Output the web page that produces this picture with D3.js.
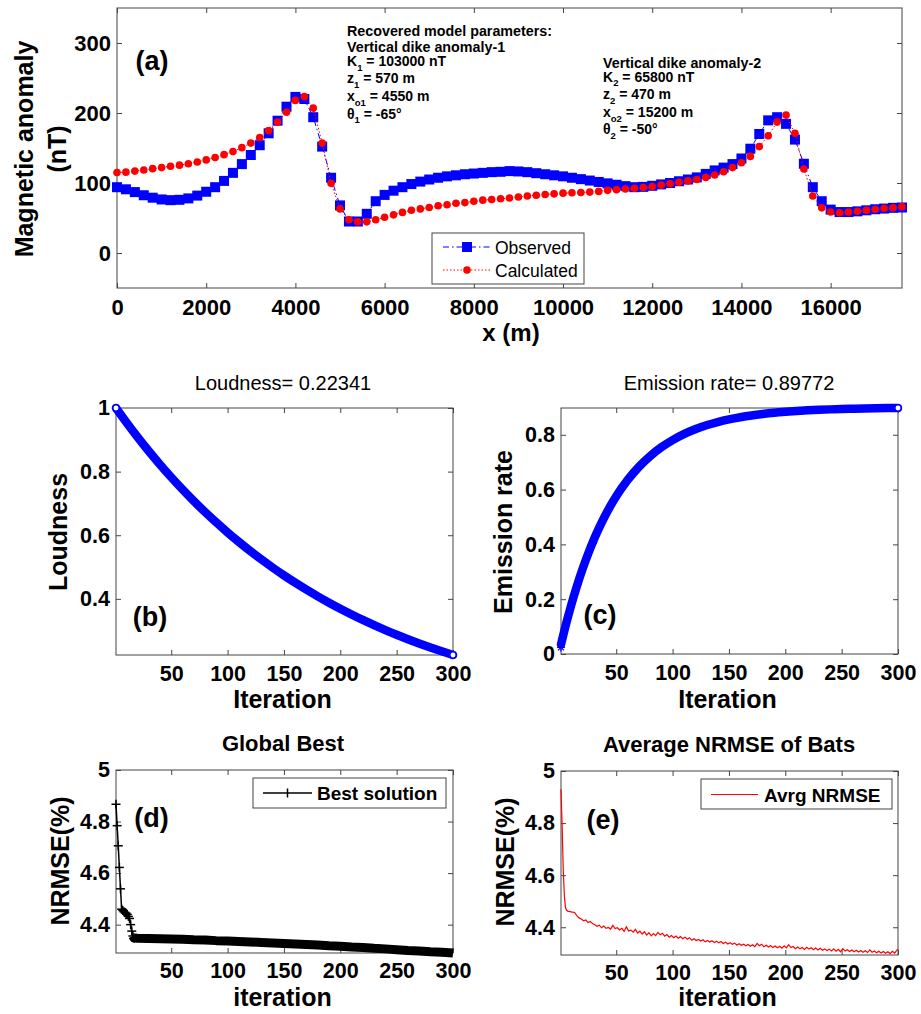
<!DOCTYPE html>
<html>
<head>
<meta charset="utf-8">
<script src="https://cdn.jsdelivr.net/npm/d3@7"></script>
<style>
body { margin: 0; background: #fff; }
text { font-family: "Liberation Sans", Arial, sans-serif; }
</style>
</head>
<body>
<svg width="921" height="1014"></svg>
<script>
var svg = d3.select('svg');

// ---- data ----
var stations = [0,200,400,600,800,1000,1200,1400,1600,1800,
  2000,2200,2400,2600,2800,3000,3200,3400,3600,3800,
  4000,4200,4400,4600,4800,5000,5200,5400,5600,5800,
  6000,6200,6400,6600,6800,7000,7200,7400,7600,7800,
  8000,8200,8400,8600,8800,9000,9200,9400,9600,9800,
  10000,10200,10400,10600,10800,11000,11200,11400,11600,11800,
  12000,12200,12400,12600,12800,13000,13200,13400,13600,13800,
  14000,14200,14400,14600,14800,15000,15200,15400,15600,15800,
  16000,16200,16400,16600,16800,17000,17200,17400,17600];

var observed = [94,91,87,82.5,79,76.5,75.5,76,78,82,
  87.5,94,103,114.5,127,140,154,171,189,209,
  223,220,194,152,107.5,68,45,45,56,74,
  83,89,94,98.5,102,105,107.5,109.5,111,112.5,
  113.5,114.5,115.5,116,117,116.5,115.5,114,112.5,111,
  109.5,107.5,105.5,103.5,101.5,99.5,97.5,95.5,94,94.5,
  96,98,100,102.5,105,108,113,118,122,127,
  135,149,170,189.5,194,184.5,162,127.5,94,74,
  62,58.5,58.5,59.5,61,62.5,63.5,64.5,65];

var calculated = [115,115.5,117,118.5,120.5,122,124,125.5,127.5,130,
  133,136.5,140.5,145,150.5,157,165,175,187,201,
  218,223.5,207,157,99.5,63,47.5,44.5,44.5,47.5,
  51,54.5,58,61,63,65,67.5,69,71,72,
  74,75.5,76.5,77.5,78.5,80,81.5,82.5,83.5,84.5,
  85.5,86,86.5,87,88,89.5,90.5,91.5,92.5,93.5,
  95,97,99,101,103,105,108,111.5,116,122,
  129,138,152,167.5,187,197,171,120,81.5,64.5,
  58.5,57.5,58.5,59.5,61,62.5,64,64.5,66];

var loudIter = [1,10,20,30,40,50,60,70,80,90,100,110,120,130,140,150,160,170,180,190,200,210,220,230,240,250,260,270,280,290,300];
var loudness = [1,0.9559,0.9092,0.8647,0.8224,0.7822,0.7440,0.7076,0.6730,0.6401,0.6088,0.5791,0.5507,0.5238,0.4982,0.4738,0.4507,0.4287,0.4077,0.3878,0.3688,0.3508,0.3336,0.3173,0.3018,0.2870,0.2730,0.2597,0.2470,0.2349,0.22341];

var emisIter = [1,5,10,15,20,25,30,35,40,45,50,60,70,80,90,100,110,120,130,140,150,160,170,180,190,200,210,220,230,240,250,260,270,280,290,300];
var emission = [0.035,0.1018,0.1777,0.2465,0.3087,0.3649,0.4159,0.4619,0.5036,0.5413,0.5755,0.6343,0.6825,0.7219,0.7542,0.7806,0.8023,0.8200,0.8345,0.8464,0.8561,0.8640,0.8706,0.8759,0.8803,0.8838,0.8868,0.8892,0.8911,0.8927,0.8941,0.8951,0.8960,0.8967,0.8973,0.89772];

var bestIter = [1,2,3,4,5,6,7,8,9,10,11,12,13,14,15,16,17,20,30,40,50,60,70,80,90,100,110,120,130,140,150,160,170,180,190,200,210,220,230,240,250,260,270,280,290,300];
var bestNrmse = [4.867,4.784,4.706,4.622,4.539,4.46,4.455,4.45,4.447,4.444,4.44,4.432,4.424,4.40,4.375,4.356,4.348,4.347,4.346,4.345,4.344,4.343,4.341,4.340,4.338,4.337,4.335,4.333,4.331,4.329,4.327,4.325,4.323,4.321,4.318,4.316,4.313,4.311,4.308,4.306,4.303,4.300,4.298,4.295,4.293,4.290];

var avgIter = [1,2,3,4,5,6,7,9,11,13,15,17,19,21,23,25,27,29,31,33,35,37,39,41,43,45,47,49,
  51,53,55,57,59,61,63,65,67,69,71,73,75,77,79,81,83,85,87,89,91,93,95,97,99,
  101,103,105,107,109,111,113,115,117,119,121,123,125,127,129,131,133,135,137,139,141,143,145,147,149,
  151,153,155,157,159,161,163,165,167,169,171,173,175,177,179,181,183,185,187,189,191,193,195,197,199,
  201,203,205,207,209,211,213,215,217,219,221,223,225,227,229,231,233,235,237,239,241,243,245,247,249,
  251,253,255,257,259,261,263,265,267,269,271,273,275,277,279,281,283,285,287,289,291,293,295,297,299,300];
var avgNrmse = [4.93,4.79,4.62,4.52,4.475,4.465,4.462,4.46,4.458,4.457,4.445,4.436,4.432,4.425,4.428,4.418,4.422,4.414,4.41,4.404,4.408,4.398,4.405,4.396,4.399,4.393,4.407,4.395,
  4.398,4.39,4.396,4.384,4.402,4.386,4.389,4.381,4.392,4.378,4.385,4.374,4.383,4.37,4.379,4.367,4.376,4.368,4.38,4.371,4.377,4.366,4.372,4.362,4.368,
  4.36,4.366,4.358,4.364,4.356,4.362,4.354,4.36,4.35,4.356,4.349,4.353,4.347,4.352,4.344,4.349,4.343,4.348,4.341,4.346,4.34,4.345,4.338,4.343,4.336,
  4.341,4.335,4.339,4.332,4.337,4.331,4.335,4.329,4.334,4.327,4.333,4.326,4.338,4.329,4.335,4.325,4.331,4.324,4.33,4.322,4.328,4.321,4.327,4.32,4.329,
  4.321,4.333,4.322,4.326,4.318,4.324,4.317,4.322,4.315,4.323,4.316,4.321,4.314,4.32,4.313,4.319,4.312,4.317,4.311,4.316,4.309,4.317,4.308,4.315,4.306,
  4.318,4.309,4.314,4.307,4.313,4.306,4.312,4.305,4.311,4.304,4.31,4.303,4.313,4.304,4.309,4.302,4.308,4.301,4.307,4.3,4.306,4.299,4.308,4.301,4.312,4.316];

var iterTicks = [50,100,150,200,250,300];

// ---- helpers ----
function frame(x, y, xTicks, yTicks, fs, xPad) {
  var xr = x.range(), yr = y.range();
  var gb = svg.append('g').attr('transform', 'translate(0,' + yr[0] + ')')
    .call(d3.axisBottom(x).tickValues(xTicks).tickSize(-5).tickPadding(xPad).tickFormat(function(d){ return d; }));
  var gt = svg.append('g').attr('transform', 'translate(0,' + yr[1] + ')')
    .call(d3.axisTop(x).tickValues(xTicks).tickSize(-5).tickFormat(''));
  var gl = svg.append('g').attr('transform', 'translate(' + xr[0] + ',0)')
    .call(d3.axisLeft(y).tickValues(yTicks).tickSize(-5).tickPadding(6).tickFormat(function(d){ return d; }));
  var gr = svg.append('g').attr('transform', 'translate(' + xr[1] + ',0)')
    .call(d3.axisRight(y).tickValues(yTicks).tickSize(-5).tickFormat(''));
  [gb, gt, gl, gr].forEach(function(g){
    g.select('.domain').remove();
    g.selectAll('line').attr('stroke', '#444');
    g.selectAll('text').attr('font-size', fs).attr('font-weight', 'bold').attr('fill', '#000');
  });
  svg.append('rect')
    .attr('x', xr[0]).attr('y', yr[1])
    .attr('width', xr[1] - xr[0]).attr('height', yr[0] - yr[1])
    .attr('fill', 'none').attr('stroke', '#444').attr('stroke-width', 1);
}

function label(txt, x, y, size, weight, rot, anchor) {
  var t = svg.append('text').text(txt)
    .attr('font-size', size).attr('font-weight', weight || 'normal')
    .attr('text-anchor', anchor || 'middle').attr('fill', '#000');
  if (rot) {
    t.attr('transform', 'translate(' + x + ',' + y + ') rotate(-90)').attr('dy', '0.35em');
  } else {
    t.attr('x', x).attr('y', y);
  }
  return t;
}

function paramLine(x, y, main, sub, rest) {
  var t = svg.append('text').attr('x', x).attr('y', y)
    .attr('font-size', 14).attr('font-weight', 'bold').attr('fill', '#000');
  t.append('tspan').text(main);
  t.append('tspan').text(sub).attr('font-size', 9.5).attr('dy', 4.5);
  t.append('tspan').text(rest).attr('dy', -4.5);
}

// ================= panel (a) =================
var xa = d3.scaleLinear().domain([0, 17600]).range([117, 902]);
var ya = d3.scaleLinear().domain([-50, 350]).range([288, 8]);
frame(xa, ya, [0,2000,4000,6000,8000,10000,12000,14000,16000], [0,100,200,300], 22, 11);

var obsPts = stations.map(function(s, i){ return [s, observed[i]]; });
var calPts = stations.map(function(s, i){ return [s, calculated[i]]; });
var lineA = d3.line().x(function(d){ return xa(d[0]); }).y(function(d){ return ya(d[1]); });

svg.append('path').attr('d', lineA(obsPts)).attr('fill', 'none')
  .attr('stroke', '#0000ff').attr('stroke-width', 1).attr('stroke-dasharray', '6,3,1.5,3');
svg.selectAll('rect.obs').data(obsPts).enter().append('rect').attr('class', 'obs')
  .attr('x', function(d){ return xa(d[0]) - 5; })
  .attr('y', function(d){ return ya(d[1]) - 5; })
  .attr('width', 10).attr('height', 10).attr('fill', '#0000ff');
svg.append('path').attr('d', lineA(calPts)).attr('fill', 'none')
  .attr('stroke', '#ff0000').attr('stroke-width', 1).attr('stroke-dasharray', '1.5,2');
svg.selectAll('circle.cal').data(calPts).enter().append('circle').attr('class', 'cal')
  .attr('cx', function(d){ return xa(d[0]); })
  .attr('cy', function(d){ return ya(d[1]); })
  .attr('r', 3.8).attr('fill', '#ff0000');

label('(a)', 152, 70, 27, 'bold');
label('Magnetic anomaly', 24, 149, 25, 'bold', true);
label('(nT)', 57, 149, 25, 'bold', true);
label('x (m)', 511, 341, 24, 'bold');

svg.append('text').attr('x', 347).attr('y', 36).attr('font-size', 14.3).attr('font-weight', 'bold')
  .text('Recovered model parameters:');
svg.append('text').attr('x', 347).attr('y', 52).attr('font-size', 14.3).attr('font-weight', 'bold')
  .text('Vertical dike anomaly-1');
paramLine(347, 66, 'K', '1', ' = 103000 nT');
paramLine(347, 83, 'z', '1', ' = 570 m');
paramLine(347, 101, 'x', 'o1', ' = 4550 m');
paramLine(347, 118.5, '\u03b8', '1', ' = -65\u00b0');

svg.append('text').attr('x', 603).attr('y', 67.5).attr('font-size', 14.3).attr('font-weight', 'bold')
  .text('Vertical dike anomaly-2');
paramLine(603, 81.5, 'K', '2', ' = 65800 nT');
paramLine(603, 99, 'z', '2', ' = 470 m');
paramLine(603, 117, 'x', 'o2', ' = 15200 m');
paramLine(603, 134, '\u03b8', '2', ' = -50\u00b0');

// legend (a)
svg.append('rect').attr('x', 432).attr('y', 233).attr('width', 152).attr('height', 51)
  .attr('fill', '#fff').attr('stroke', '#444');
svg.append('line').attr('x1', 443).attr('x2', 491).attr('y1', 247).attr('y2', 247)
  .attr('stroke', '#0000ff').attr('stroke-dasharray', '6,3,1.5,3');
svg.append('rect').attr('x', 462).attr('y', 242).attr('width', 10).attr('height', 10).attr('fill', '#0000ff');
svg.append('line').attr('x1', 443).attr('x2', 491).attr('y1', 270).attr('y2', 270)
  .attr('stroke', '#ff0000').attr('stroke-dasharray', '1.5,2');
svg.append('circle').attr('cx', 467).attr('cy', 270).attr('r', 3.8).attr('fill', '#ff0000');
label('Observed', 495, 253.5, 17.5, 'normal', false, 'start');
label('Calculated', 495, 276.5, 17.5, 'normal', false, 'start');

// ================= panel (b) =================
var xb = d3.scaleLinear().domain([1, 300]).range([116, 453]);
var yb = d3.scaleLinear().domain([0.22341, 1]).range([655, 408]);
frame(xb, yb, iterTicks, [0.4, 0.6, 0.8, 1], 21.5, 10.5);
var loudPts = loudIter.map(function(t, i){ return [t, loudness[i]]; });
var lineB = d3.line().curve(d3.curveMonotoneX).x(function(d){ return xb(d[0]); }).y(function(d){ return yb(d[1]); });
svg.append('path').attr('d', lineB(loudPts)).attr('fill', 'none')
  .attr('stroke', '#0000ff').attr('stroke-width', 8.5).attr('stroke-linecap', 'round').attr('stroke-linejoin', 'round');
svg.selectAll('circle.loud').data([loudPts[0], loudPts[loudPts.length - 1]]).enter().append('circle')
  .attr('cx', function(d){ return xb(d[0]); }).attr('cy', function(d){ return yb(d[1]); })
  .attr('r', 3.2).attr('fill', '#fff').attr('stroke', '#0000ff').attr('stroke-width', 1.5);
label('Loudness= 0.22341', 283, 390, 20, 'normal');
label('(b)', 150, 626, 27, 'bold');
label('Loudness', 58, 532, 25, 'bold', true);
label('Iteration', 282.5, 708, 25, 'bold');

// ================= panel (c) =================
var xc = d3.scaleLinear().domain([1, 300]).range([561, 898]);
var yc = d3.scaleLinear().domain([0, 0.89772]).range([654, 408]);
frame(xc, yc, iterTicks, [0, 0.2, 0.4, 0.6, 0.8], 21.5, 10.5);
var emisPts = emisIter.map(function(t, i){ return [t, emission[i]]; });
var lineC = d3.line().curve(d3.curveMonotoneX).x(function(d){ return xc(d[0]); }).y(function(d){ return yc(d[1]); });
svg.append('path').attr('d', lineC(emisPts)).attr('fill', 'none')
  .attr('stroke', '#0000ff').attr('stroke-width', 8.5).attr('stroke-linecap', 'round').attr('stroke-linejoin', 'round');
var p0 = emisPts[0];
[[-4,0,4,0],[0,-4,0,4],[-3,-3,3,3],[-3,3,3,-3]].forEach(function(s){
  svg.append('line').attr('x1', xc(p0[0]) + s[0]).attr('y1', yc(p0[1]) + s[1] + 3)
    .attr('x2', xc(p0[0]) + s[2]).attr('y2', yc(p0[1]) + s[3] + 3)
    .attr('stroke', '#0000ff').attr('stroke-width', 1.3);
});
var pl = emisPts[emisPts.length - 1];
svg.append('circle').attr('cx', xc(pl[0])).attr('cy', yc(pl[1])).attr('r', 3.2)
  .attr('fill', '#fff').attr('stroke', '#0000ff').attr('stroke-width', 1.5);
label('Emission rate= 0.89772', 729, 390, 20, 'normal');
label('(c)', 600, 624, 27, 'bold');
label('Emission rate', 503, 532, 25, 'bold', true);
label('Iteration', 727.5, 708, 25, 'bold');

// ================= panel (d) =================
var xd = d3.scaleLinear().domain([1, 300]).range([116, 453]);
var yd = d3.scaleLinear().domain([4.29, 5]).range([953, 770]);
frame(xd, yd, iterTicks, [4.4, 4.6, 4.8, 5], 21.5, 9.5);
var bestPts = bestIter.map(function(t, i){ return [t, bestNrmse[i]]; });
var lineD = d3.line().x(function(d){ return xd(d[0]); }).y(function(d){ return yd(d[1]); });
svg.append('path').attr('d', lineD(bestPts.filter(function(d){ return d[0] >= 16; }))).attr('fill', 'none')
  .attr('stroke', '#000').attr('stroke-width', 9).attr('stroke-linejoin', 'round');
svg.append('path').attr('d', lineD(bestPts)).attr('fill', 'none')
  .attr('stroke', '#000').attr('stroke-width', 1.5);
bestPts.filter(function(d){ return d[0] <= 17; }).forEach(function(d){
  var cx = xd(d[0]), cy = yd(d[1]);
  svg.append('line').attr('x1', cx - 4.5).attr('x2', cx + 4.5).attr('y1', cy).attr('y2', cy).attr('stroke', '#000').attr('stroke-width', 1.5);
  svg.append('line').attr('x1', cx).attr('x2', cx).attr('y1', cy - 4.5).attr('y2', cy + 4.5).attr('stroke', '#000').attr('stroke-width', 1.5);
});
svg.append('rect').attr('x', 253).attr('y', 778).attr('width', 193).attr('height', 30)
  .attr('fill', '#fff').attr('stroke', '#444');
svg.append('line').attr('x1', 263).attr('x2', 312).attr('y1', 793).attr('y2', 793).attr('stroke', '#000').attr('stroke-width', 1.5);
svg.append('line').attr('x1', 287.5).attr('x2', 287.5).attr('y1', 788.5).attr('y2', 797.5).attr('stroke', '#000').attr('stroke-width', 1.5);
label('Best solution', 317, 800, 19, 'bold', false, 'start');
label('Global Best', 283, 750.5, 22, 'bold');
label('(d)', 151.5, 827, 27, 'bold');
label('NRMSE(%)', 60, 861, 25, 'bold', true);
label('iteration', 282.5, 1006, 25, 'bold');

// ================= panel (e) =================
var xe = d3.scaleLinear().domain([1, 300]).range([561, 898]);
var ye = d3.scaleLinear().domain([4.2935, 5]).range([955, 771]);
frame(xe, ye, iterTicks, [4.4, 4.6, 4.8, 5], 21.5, 9.5);
var avgPts = avgIter.map(function(t, i){ return [t, avgNrmse[i]]; });
var lineE = d3.line().x(function(d){ return xe(d[0]); }).y(function(d){ return ye(d[1]); });
svg.append('path').attr('d', lineE(avgPts)).attr('fill', 'none')
  .attr('stroke', '#ff0000').attr('stroke-width', 1.2);
svg.append('rect').attr('x', 701).attr('y', 779).attr('width', 191).attr('height', 30)
  .attr('fill', '#fff').attr('stroke', '#444');
svg.append('line').attr('x1', 711).attr('x2', 758).attr('y1', 794.5).attr('y2', 794.5).attr('stroke', '#ff0000').attr('stroke-width', 1.2);
label('Avrg NRMSE', 764, 801.5, 19, 'bold', false, 'start');
label('Average NRMSE of Bats', 729, 751.5, 22, 'bold');
label('(e)', 603, 829, 27, 'bold');
label('NRMSE(%)', 505, 862, 25, 'bold', true);
label('iteration', 727.5, 1006, 25, 'bold');
</script>
</body>
</html>
